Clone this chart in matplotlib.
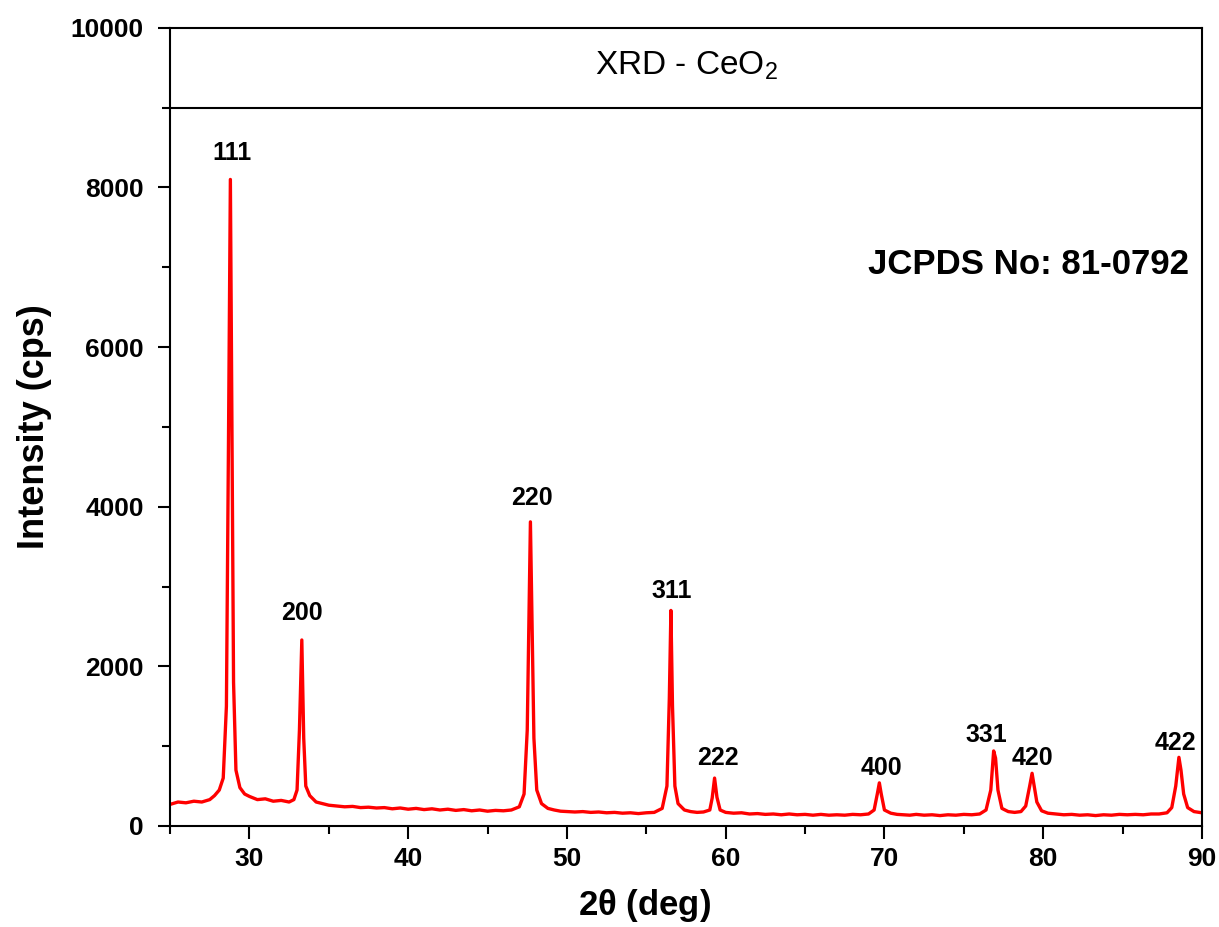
import numpy as np
import matplotlib
matplotlib.use("Agg")
import matplotlib.pyplot as plt
from matplotlib.ticker import MultipleLocator

plt.rcParams['font.family'] = ['Liberation Sans', 'DejaVu Sans']
plt.rcParams['mathtext.fontset'] = 'custom'
plt.rcParams['mathtext.rm'] = 'Liberation Sans'
plt.rcParams['mathtext.bf'] = 'Liberation Sans:bold'

# digitized pattern (2theta in deg, intensity in cps)
two_theta = [
    25.0, 25.5, 26.0, 26.5, 27.0, 27.5, 27.8, 28.1, 28.35, 28.55, 28.68, 28.8,
    28.9, 29.0, 29.15, 29.4, 29.7, 30.0, 30.5, 31.0, 31.5, 32.0, 32.5, 32.8,
    33.0, 33.15, 33.3, 33.42, 33.55, 33.8, 34.2, 34.6, 35.0, 35.5, 36.0, 36.5,
    37.0, 37.5, 38.0, 38.5, 39.0, 39.5, 40.0, 40.5, 41.0, 41.5, 42.0, 42.5,
    43.0, 43.5, 44.0, 44.5, 45.0, 45.5, 46.0, 46.5, 47.0, 47.3, 47.5, 47.62,
    47.7, 47.8, 47.92, 48.1, 48.4, 48.8, 49.2, 49.6, 50.0, 50.5, 51.0, 51.5,
    52.0, 52.5, 53.0, 53.5, 54.0, 54.5, 55.0, 55.5, 56.0, 56.3, 56.45, 56.55,
    56.65, 56.8, 57.0, 57.4, 57.8, 58.2, 58.6, 59.0, 59.15, 59.3, 59.45, 59.65,
    60.0, 60.5, 61.0, 61.5, 62.0, 62.5, 63.0, 63.5, 64.0, 64.5, 65.0, 65.5,
    66.0, 66.5, 67.0, 67.5, 68.0, 68.5, 69.0, 69.35, 69.55, 69.68, 69.8, 70.0,
    70.4, 70.8, 71.2, 71.6, 72.0, 72.5, 73.0, 73.5, 74.0, 74.5, 75.0, 75.5,
    76.0, 76.4, 76.7, 76.88, 77.0, 77.15, 77.4, 77.8, 78.2, 78.6, 78.9, 79.15,
    79.3, 79.45, 79.6, 79.9, 80.3, 80.8, 81.3, 81.8, 82.3, 82.8, 83.3, 83.8,
    84.3, 84.8, 85.3, 85.8, 86.3, 86.8, 87.3, 87.8, 88.1, 88.35, 88.55, 88.68,
    88.85, 89.1, 89.5, 90.0,
]
intensity = [
    270, 300, 290, 310, 300, 330, 380, 450, 600, 1500, 4800, 8100,
    5000, 1800, 700, 480, 400, 370, 330, 340, 310, 320, 300, 330,
    450, 1200, 2330, 1100, 500, 380, 300, 280, 260, 250, 240, 245,
    230, 235, 225, 230, 215, 225, 210, 220, 205, 215, 200, 210,
    195, 205, 190, 200, 185, 195, 190, 200, 240, 400, 1200, 2800,
    3810, 2600, 1100, 450, 280, 220, 200, 185, 180, 175, 180, 170,
    175, 165, 170, 160, 165, 155, 165, 170, 220, 500, 1600, 2700,
    1500, 500, 280, 200, 180, 170, 175, 200, 350, 600, 360, 200,
    170, 160, 165, 150, 155, 145, 150, 140, 150, 140, 145, 135,
    145, 135, 140, 135, 145, 140, 150, 200, 400, 540, 400, 200,
    160, 145, 140, 135, 145, 135, 140, 130, 140, 135, 145, 140,
    150, 200, 450, 940, 850, 450, 220, 180, 170, 180, 250, 500,
    660, 480, 300, 190, 160, 150, 140, 145, 135, 140, 130, 140,
    135, 145, 140, 145, 140, 150, 150, 165, 230, 500, 860, 700,
    400, 230, 180, 165,
]

# peak labels (hkl) and where they sit (baseline of the text)
hkl = ["111", "200", "220", "311", "222", "400", "331", "420", "422"]
hkl_x = [28.9, 33.3, 47.8, 56.6, 59.5, 69.8, 76.45, 79.35, 88.35]
hkl_y = [8350, 2580, 4020, 2860, 765, 640, 1050, 765, 950]

fig = plt.figure(figsize=(12.19, 9.27), dpi=100)
ax = fig.add_axes([0.1395, 0.109, 0.8465, 0.861])

ax.plot(two_theta, intensity, color='red', lw=2.4)

ax.set_xlim(25, 90)
ax.set_ylim(0, 10000)
ax.xaxis.set_major_locator(MultipleLocator(10))
ax.xaxis.set_minor_locator(MultipleLocator(5))
ax.yaxis.set_major_locator(MultipleLocator(2000))
ax.yaxis.set_minor_locator(MultipleLocator(1000))
ax.tick_params(which='both', direction='out', width=1.5, top=False, right=False)
ax.tick_params(which='major', length=9, labelsize=19)
ax.tick_params(which='minor', length=5.5)
ax.tick_params(axis='x', which='major', pad=6)
ax.tick_params(axis='y', which='major', pad=10)
for lab in ax.get_xticklabels() + ax.get_yticklabels():
    lab.set_fontweight('bold')
for s in ax.spines.values():
    s.set_linewidth(1.5)

ax.set_xlabel(r"2$\mathbf{\theta}$ (deg)", fontsize=25, fontweight='bold')
ax.xaxis.set_label_coords(0.46, -0.076)
ax.set_ylabel("Intensity (cps)", fontsize=26, fontweight='bold')
ax.yaxis.set_label_coords(-0.114, 0.5)

# title band inside the frame
ax.axhline(9000, color='black', lw=1.5)
ax.text(57.5, 9520, r"XRD - CeO$_2$", ha='center', va='center', fontsize=24)

ax.text(89.2, 7030, "JCPDS No: 81-0792", ha='right', va='center',
        fontsize=25, fontweight='bold')

for lab, x, y in zip(hkl, hkl_x, hkl_y):
    ax.text(x, y, lab, ha='center', va='baseline', fontsize=18, fontweight='bold')

plt.savefig("out.png", dpi=100)
